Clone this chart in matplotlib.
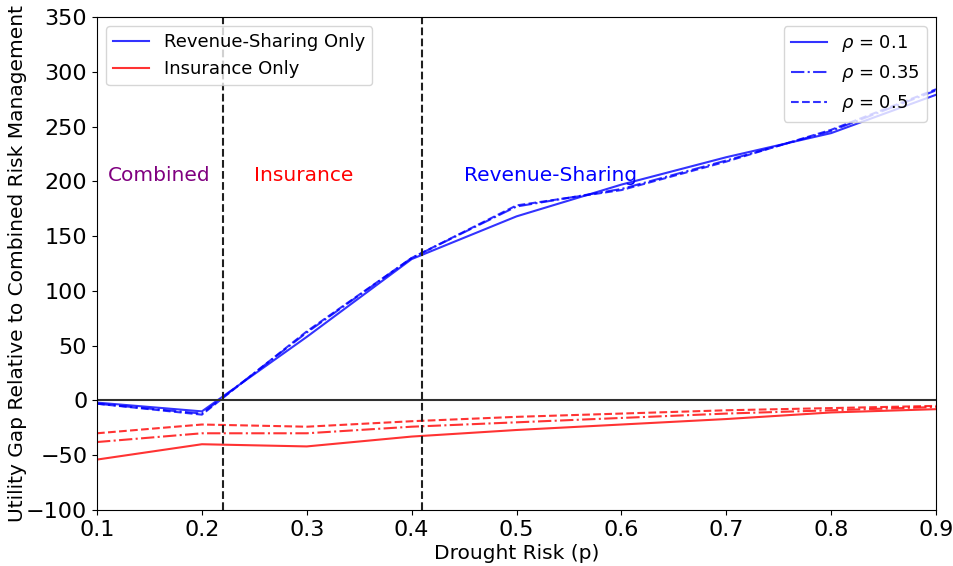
import matplotlib.pyplot as plt
import numpy as np

# drought probability grid
p = [0.1, 0.2, 0.3, 0.4, 0.5, 0.6, 0.7, 0.8, 0.9]
rhos = [0.1, 0.35, 0.5]

# utility gap of revenue-sharing only vs combined, one list per rho
rs_gap = {
  0.1: [-2, -10, 58, 129, 168, 197, 222, 244, 279],
  0.35: [-3, -12, 62, 130, 177, 193, 219, 246, 283],
  0.5: [-3, -13, 63, 130, 178, 192, 218, 247, 284],
}
# utility gap of insurance only vs combined
ins_gap = {
  0.1: [-54, -40, -42, -33, -27, -22, -17, -11, -8],
  0.35: [-38, -30, -30, -24, -20, -16, -12, -9, -6],
  0.5: [-30, -22, -24, -19, -15, -12, -9, -7, -5],
}
styles = {0.1: '-', 0.35: '-.', 0.5: '--'}

# regime boundaries
p_low, p_high = 0.22, 0.41

plt.rcParams.update({'font.size': 16})
fig = plt.figure(figsize=(9.54, 5.66), dpi=100)
ax = fig.add_axes([0.1017, 0.099, 0.8795, 0.871])

for r in rhos:
  ax.plot(p, rs_gap[r], ls=styles[r], color='blue', alpha=0.8, lw=1.5)
  ax.plot(p, ins_gap[r], ls=styles[r], color='red', alpha=0.8, lw=1.5)

ax.axhline(0, color='#303030', lw=1.5)
ax.axvline(p_low, color='#202020', ls='--', lw=1.5)
ax.axvline(p_high, color='#202020', ls='--', lw=1.5)

ax.text(0.11, 200, 'Combined', color='purple', fontsize=14.5)
ax.text(0.25, 200, 'Insurance', color='red', fontsize=14.5)
ax.text(0.45, 200, 'Revenue-Sharing', color='blue', fontsize=14.5)

ax.set_xlim(0.1, 0.9)
ax.set_ylim(-100, 350)
ax.set_xlabel('Drought Risk (p)', fontsize=14.5, labelpad=3)
ax.set_ylabel('Utility Gap Relative to Combined Risk Management', fontsize=14.5, labelpad=-1)

h1, = ax.plot([], [], color='blue', alpha=0.8)
h2, = ax.plot([], [], color='red', alpha=0.8)
leg1 = ax.legend([h1, h2], ['Revenue-Sharing Only', 'Insurance Only'],
                 loc='upper left', fontsize=13)
ax.add_artist(leg1)

hs = [ax.plot([], [], color='blue', alpha=0.8, ls=styles[r])[0] for r in rhos]
ax.legend(hs, [rf'$\rho$ = {r}' for r in rhos], loc='upper right', fontsize=13)

fig.savefig('out.png', dpi=100)
